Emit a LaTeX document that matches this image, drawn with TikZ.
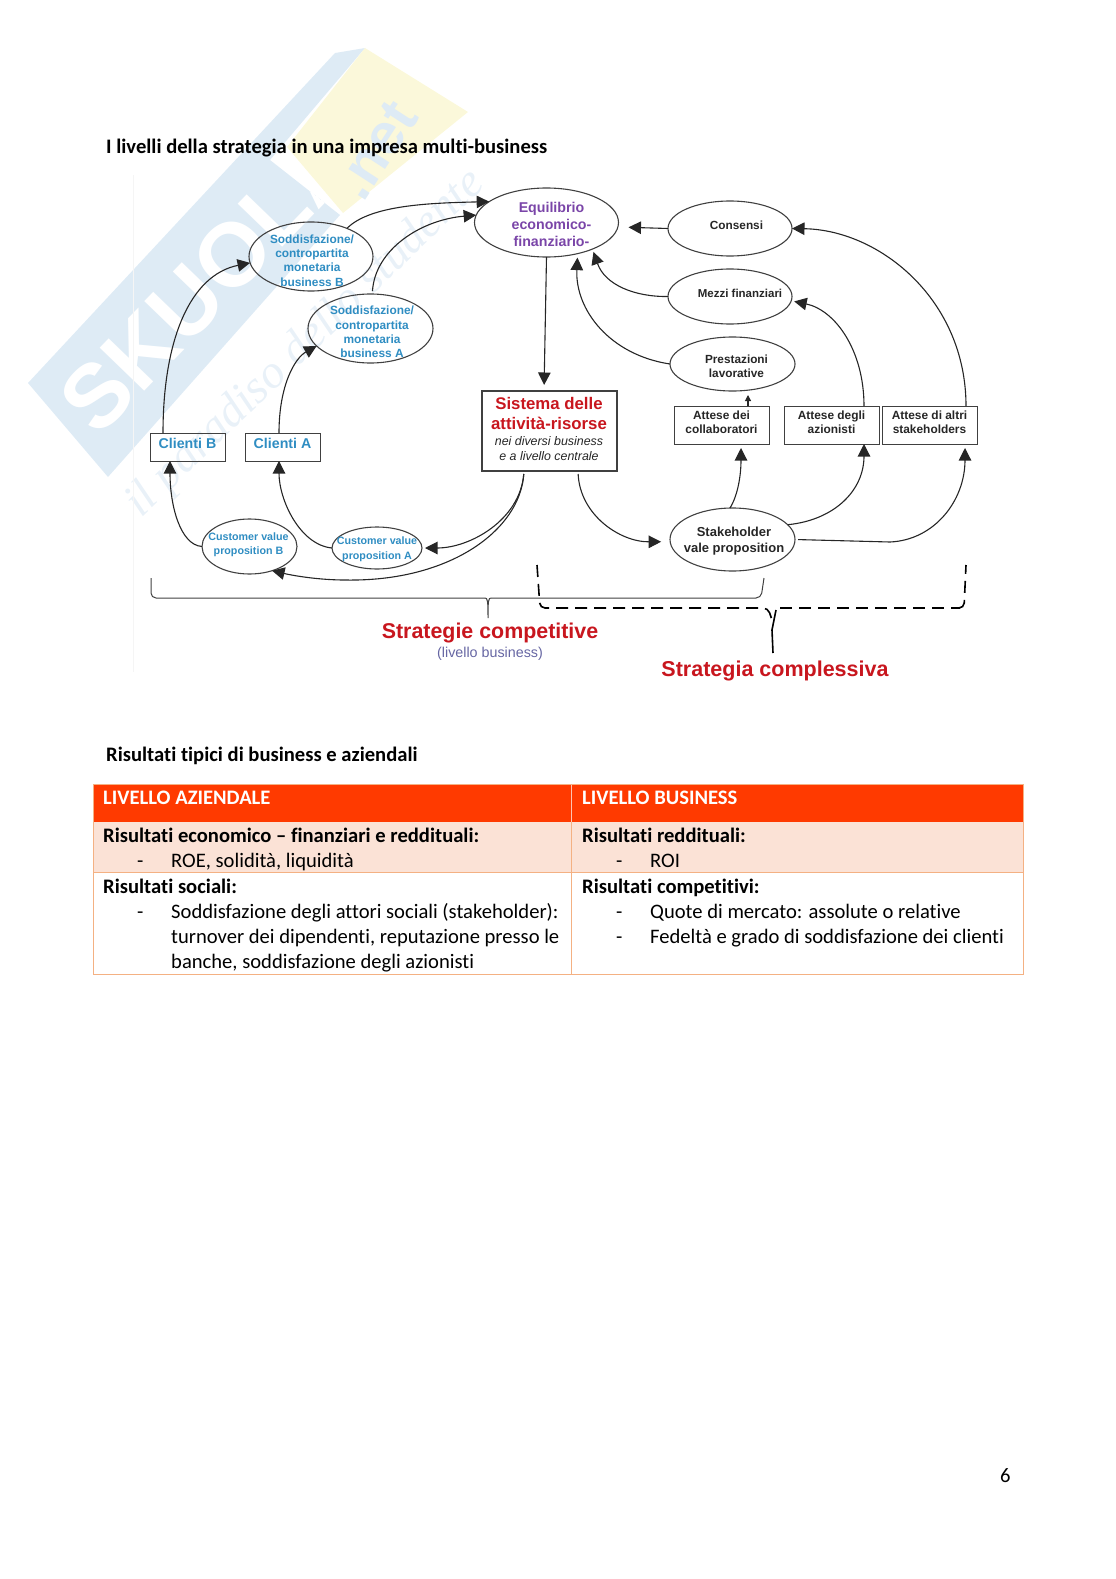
\documentclass[tikz,border=0pt]{standalone}
\usepackage{fontspec}
\setmainfont{Liberation Sans}
\newfontfamily\carlito[Ligatures=NoCommon]{Carlito}
\newfontfamily\wmserif{Liberation Serif}
\usetikzlibrary{shapes.geometric,arrows.meta}
\definecolor{cblue}{HTML}{2F8DC2}
\definecolor{cpurple}{HTML}{7A45A8}
\definecolor{cred}{HTML}{C8161E}
\definecolor{cdark}{HTML}{262626}
\definecolor{cline}{HTML}{404040}
\definecolor{wblue}{HTML}{DEEBF5}
\definecolor{wyellow}{HTML}{FBF8DA}
\definecolor{wtext}{HTML}{E9F1F8}
\definecolor{thead}{HTML}{FF3A00}
\definecolor{trow}{HTML}{FBE2D6}
\definecolor{tborder}{HTML}{F4B183}
\newcommand{\fsz}[2]{\fontsize{#1}{#2}\selectfont}
\tikzset{
  ell/.style={draw=cline,line width=1.1pt,ellipse,inner sep=0pt,outer sep=0pt},
  rct/.style={draw=cline,line width=1pt,rectangle,inner sep=0pt,outer sep=0pt},
  lbl/.style={align=center,inner sep=0pt,font=\bfseries},
  conn/.style={draw=black!85,line width=1.1pt,-{Triangle[length=12.5pt,width=12.5pt]}},
  page/.style={anchor=base west,inner sep=0pt,font=\carlito\fsz{20.6}{25}},
  pageb/.style={page,font=\carlito\bfseries\fsz{20.6}{25}},
  brace/.style={draw=cline,line width=1pt},
  dbrace/.style={draw=black,line width=1.6pt,dash pattern=on 12pt off 7pt},
}
\begin{document}
\begin{tikzpicture}[x=1pt,y=-1pt]
\useasboundingbox (0,0) rectangle (1116,1579);
% watermark
\fill[wblue] (28,383) -- (335,53) -- (365,48) -- (270,160) -- (340,215) -- (108,477) -- cycle;
\fill[wyellow] (365,48) -- (468,112) -- (343,213) -- (287,147) -- cycle;
\begin{scope}
\clip (28,383) -- (335,53) -- (365,48) -- (270,160) -- (340,215) -- (108,477) -- cycle;
\node[rotate=46,text=white,font=\bfseries\fsz{90}{92},inner sep=0pt] (wmlogo) at (208,280) {SKUOLA};
\end{scope}
\node[rotate=57,text=wblue,font=\bfseries\fsz{58}{60},inner sep=0pt] (wmnet) at (376,150) {.net};
\node[rotate=44,text=wtext,font=\wmserif\itshape\fsz{47}{49},inner sep=0pt] (wmtag) at (306,344) {il paradiso dello studente};
\draw[black!4,line width=1pt] (133,175) -- (133,672);

% page headings
\node[pageb] (t1) at (106,153) {I livelli della strategia in una impresa multi-business};
\node[pageb] (t2) at (106,761) {Risultati tipici di business e aziendali};

% diagram nodes
\node[ell,minimum width=144pt,minimum height=69pt,label={[lbl,text=cpurple,font=\bfseries\fsz{14.2}{17},xshift=5pt,yshift=-2pt]center:{Equilibrio\\economico-\\finanziario-}}] (eq) at (546.5,222.5) {};
\node[ell,minimum width=124pt,minimum height=69pt,label={[lbl,text=cblue,font=\bfseries\fsz{11.9}{14.4},xshift=1pt,yshift=-4pt]center:{Soddisfazione/\\contropartita\\monetaria\\business B}}] (sb) at (311,256.5) {};
\node[ell,minimum width=125pt,minimum height=69pt,label={[lbl,text=cblue,font=\bfseries\fsz{11.9}{14.4},xshift=1.5pt,yshift=-3.5pt]center:{Soddisfazione/\\contropartita\\monetaria\\business A}}] (sa) at (370.5,328.5) {};
\node[rct,minimum width=75pt,minimum height=28pt,label={[lbl,text=cblue,font=\bfseries\fsz{14.2}{17},yshift=3.5pt]center:{Clienti B}}] (cb) at (187.5,447) {};
\node[rct,minimum width=75pt,minimum height=28pt,label={[lbl,text=cblue,font=\bfseries\fsz{14.2}{17},yshift=3.5pt]center:{Clienti A}}] (ca) at (282.5,447) {};
\node[rct,line width=2.4pt,minimum width=135pt,minimum height=80pt] (sys) at (549.5,431) {};
\node[lbl,text=cred,font=\bfseries\fsz{16.8}{19.5}] (systa) at (549,413.5) {Sistema delle\\attività-risorse};
\node[lbl,text=cdark,font=\itshape\fsz{12.4}{15}] (systb) at (549,448.5) {nei diversi business\\e a livello centrale};
\node[ell,minimum width=95pt,minimum height=55pt,label={[lbl,text=cblue,font=\bfseries\fsz{10.7}{13.8},yshift=2pt,xshift=-1pt]center:{Customer value\\proposition B}}] (cvb) at (249.5,546.5) {};
\node[ell,minimum width=90pt,minimum height=42pt,label={[lbl,text=cblue,font=\bfseries\fsz{10.7}{15},yshift=-1pt]center:{Customer value\\proposition A}}] (cva) at (377,548) {};
\node[ell,minimum width=124pt,minimum height=55pt,label={[lbl,text=cdark,font=\bfseries\fsz{11.8}{14},xshift=6.5pt,yshift=3.5pt]center:{Consensi}}] (con) at (730,228.5) {};
\node[ell,minimum width=124pt,minimum height=55pt,label={[lbl,text=cdark,font=\bfseries\fsz{11.5}{14},xshift=10pt,yshift=3.5pt]center:{Mezzi finanziari}}] (mez) at (730,296.5) {};
\node[ell,minimum width=125pt,minimum height=54pt,label={[lbl,text=cdark,font=\bfseries\fsz{11.8}{14},xshift=4pt,yshift=-2.5pt]center:{Prestazioni\\lavorative}}] (pre) at (732.5,364) {};
\node[rct,minimum width=95pt,minimum height=38pt,label={[lbl,text=cdark,font=\bfseries\fsz{11.9}{13.7},yshift=2.5pt]center:{Attese dei\\collaboratori}}] (ad) at (721.5,425) {};
\node[rct,minimum width=95pt,minimum height=38pt,label={[lbl,text=cdark,font=\bfseries\fsz{11.9}{13.7},yshift=2.5pt]center:{Attese degli\\azionisti}}] (az) at (831.5,425) {};
\node[rct,minimum width=95pt,minimum height=38pt,label={[lbl,text=cdark,font=\bfseries\fsz{11.9}{13.7},yshift=2.5pt]center:{Attese di altri\\stakeholders}}] (ao) at (929.5,425) {};
\node[ell,minimum width=125pt,minimum height=63pt,label={[lbl,text=cdark,font=\bfseries\fsz{13}{16},xshift=1.5pt,yshift=-2pt]center:{Stakeholder\\vale proposition}}] (stk) at (732.5,539.5) {};

% connectors
\draw[conn,shorten >=6pt] (eq.south) -- ([xshift=-5.5pt]sys.north);
\draw[conn] ([xshift=-24.5pt]cb.north) .. controls (163,340) and (190,275) .. (sb.186);
\draw[conn] ([xshift=-3.5pt]ca.north) .. controls (279,385) and (295,358) .. (sa.198);
\draw[conn] (sb.38) .. controls (370,205) and (430,203) .. (eq.160);
\draw[conn,shorten <=3pt] (sa.87) .. controls (375,250) and (420,220) .. (eq.174);
\draw[conn] (cvb.west) .. controls (180,545) and (170,505) .. ([xshift=-17.5pt]cb.south);
\draw[conn] (cva.west) .. controls (300,545) and (279,500) .. ([xshift=-3.5pt]ca.south);
\draw[conn,shorten <=3pt,shorten >=3pt] ([xshift=-25.5pt]sys.south) .. controls (520,520) and (470,548) .. (cva.east);
\draw[conn,shorten <=3pt] ([xshift=-25.5pt]sys.south) .. controls (520,530) and (450,582) .. (345,580) .. controls (320,580) and (295,576) .. (cvb.-47);
\draw[conn,shorten <=3pt,shorten >=9pt] ([xshift=28.5pt]sys.south) .. controls (580,515) and (620,542) .. (stk.182);
\draw[conn,shorten >=10pt] (con.west) -- ([yshift=-4.5pt]eq.east);
\draw[conn,shorten >=3pt] (mez.west) .. controls (635,297) and (605,285) .. (eq.-30);
\draw[conn,shorten >=4pt] (pre.west) .. controls (610,355) and (575,310) .. (eq.-45);
\draw[draw=black!85,line width=1.1pt,-{Triangle[length=6pt,width=6pt]},shorten >=4pt] ([xshift=26.5pt]ad.north) -- ([xshift=15.5pt]pre.south);
\draw[conn,shorten >=4pt] ([xshift=-2.5pt]stk.north) .. controls (738,495) and (741,475) .. ([xshift=19.5pt]ad.south);
\draw[conn] (stk.15) .. controls (835,520) and (864,490) .. ([xshift=32.5pt]az.south);
\draw[conn,shorten <=3pt,shorten >=4pt] (stk.east) -- (890,542) .. controls (935,540) and (965,500) .. ([xshift=35.5pt]ao.south);
\draw[conn,shorten >=3pt] ([xshift=32.5pt]az.north) .. controls (864,350) and (835,310) .. (mez.-4);
\draw[conn] ([xshift=36.5pt]ao.north) .. controls (966,300) and (880,230) .. (con.east);

% braces
\draw[brace,rounded corners=5pt] (151,578) -- (151,598) -- (485,598);
\draw[brace,rounded corners=5pt] (491,598) -- (761,598) -- (764,578);
\draw[brace] (485,598) .. controls (487.5,598) and (488,600) .. (488,618) .. controls (488,600) and (488.5,598) .. (491,598);
\draw[dbrace,rounded corners=5pt] (537,565) -- (540,608) -- (768,608) -- (772,620);
\draw[dbrace,rounded corners=5pt] (960,608) -- (964,608) -- (966,565);
\draw[dbrace] (780,608) -- (960,608);
\draw[draw=black,line width=1.6pt] (776,610) -- (772,630) -- (773,653);

\node[lbl,text=cred,font=\bfseries\fsz{21.4}{24}] (sc) at (490,633) {Strategie competitive};
\node[lbl,text=black!60!blue!60,font=\fsz{14.3}{16}] (lb) at (490,654) {(livello business)};
\node[lbl,text=cred,font=\bfseries\fsz{21.5}{24}] (sg) at (775,671) {Strategia complessiva};

% table
\fill[thead] (93,784) rectangle (1023,822);
\fill[trow] (93,822) rectangle (1023,872);
\draw[tborder,line width=1pt] (93,784) rectangle (1023,974);
\draw[tborder,line width=1pt] (93,872) -- (1023,872);
\draw[tborder,line width=1pt] (571,822) -- (571,974);
\draw[white!70!thead,line width=.6pt] (571,785) -- (571,822);
\node[pageb,text=white] (h1) at (103,804) {LIVELLO AZIENDALE};
\node[pageb,text=white] (h2) at (582,804) {LIVELLO BUSINESS};
\node[pageb] (a1) at (103,842) {Risultati economico – finanziari e reddituali:};
\node[page] (a2d) at (137,867) {-};
\node[page] (a2) at (171,867) {ROE, solidità, liquidità};
\node[pageb] (a3) at (103,893) {Risultati sociali:};
\node[page] (a4d) at (137,918.5) {-};
\node[page] (a4) at (171,918.5) {Soddisfazione degli attori sociali (stakeholder):};
\node[page] (a5) at (171,943.5) {turnover dei dipendenti, reputazione presso le};
\node[page] (a6) at (171,968) {banche, soddisfazione degli azionisti};
\node[pageb] (b1) at (582,842) {Risultati reddituali:};
\node[page] (b2d) at (616,867) {-};
\node[page] (b2) at (650,867) {ROI};
\node[pageb] (b3) at (582,893) {Risultati competitivi:};
\node[page] (b4d) at (616,918.5) {-};
\node[page] (b4) at (650,918.5) {Quote di mercato: assolute o relative};
\node[page] (b5d) at (616,943.5) {-};
\node[page] (b5) at (650,943.5) {Fedeltà e grado di soddisfazione dei clienti};
\node[page] (pn) at (1000,1482) {6};
\end{tikzpicture}
\end{document}
